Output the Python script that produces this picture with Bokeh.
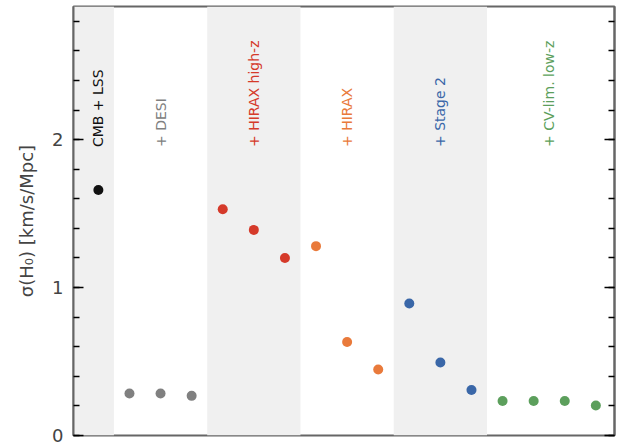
from bokeh.plotting import figure
from bokeh.models import LinearAxis, BoxAnnotation, Range1d, FixedTicker, ColumnDataSource
from bokeh.core.properties import value
from bokeh.embed import file_html
from bokeh.resources import INLINE
import math

# Data
groups = ["CMB + LSS", "+ DESI", "+ HIRAX high-z", "+ HIRAX", "+ Stage 2", "+ CV-lim. low-z"]
group_colors = ["#111111", "#808080", "#d53a2a", "#e97a3b", "#3a67a8", "#5c9f5c"]
group_values = [
    [1.66],
    [0.284, 0.284, 0.268],
    [1.53, 1.39, 1.20],
    [1.28, 0.632, 0.446],
    [0.892, 0.493, 0.307],
    [0.233, 0.233, 0.233, 0.203],
]
y_ticks = [0, 1, 2]
y_label = "σ(H₀) [km/s/Mpc]"
shaded_groups = [0, 2, 4]

FONT = "DejaVu Sans"

p = figure(width=625, height=445, output_backend="svg", toolbar_location=None,
           x_range=Range1d(-0.8, 16.6), y_range=Range1d(0, 2.9),
           min_border_left=73, min_border_right=11, min_border_top=6, min_border_bottom=10,
           x_axis_location=None)
p.grid.visible = False
p.background_fill_color = "white"
p.border_fill_color = "white"
p.outline_line_color = "#666666"
p.outline_line_width = 2

# positions
xs, ys, cs = [], [], []
label_x = []
start = 0
bounds = []
for vals, col in zip(group_values, group_colors):
    n = len(vals)
    idx = list(range(start, start + n))
    xs += idx
    ys += vals
    cs += [col] * n
    label_x.append((idx[0] + idx[-1]) / 2)
    bounds.append((idx[0] - 0.5, idx[-1] + 0.5))
    start += n

for gi in shaded_groups:
    l, r = bounds[gi]
    p.add_layout(BoxAnnotation(left=l if gi != 0 else None, right=r,
                               fill_color="#f0f0f0", fill_alpha=1.0, line_color=None, level="underlay"))

p.scatter(xs, ys, size=10, color=cs, line_color=None)

src = ColumnDataSource(dict(x=label_x, y=[1.95] * len(groups), t=groups, c=group_colors))
p.text(x="x", y="y", text="t", text_color="c", source=src, angle=math.pi / 2,
       text_align="left", text_baseline="middle", text_font=value(FONT), text_font_size="14px")

ax = p.yaxis[0]
ax.ticker = FixedTicker(ticks=y_ticks, minor_ticks=[i * 0.2 for i in range(15)])
ax.axis_label = y_label
ax.axis_label_text_font = FONT
ax.axis_label_text_font_size = "18px"
ax.axis_label_text_font_style = "normal"
ax.axis_label_standoff = 12
ax.major_label_text_font = FONT
ax.major_label_text_font_size = "18px"
ax.major_label_standoff = 10
ax.major_tick_in = 10
ax.major_tick_out = 0
ax.minor_tick_in = 6
ax.minor_tick_out = 0
ax.major_tick_line_color = "black"
ax.minor_tick_line_color = "black"
ax.major_tick_line_width = 1.5
ax.minor_tick_line_width = 1.5
ax.axis_line_color = "#666666"
ax.axis_line_width = 2

rax = LinearAxis(ticker=FixedTicker(ticks=y_ticks, minor_ticks=[i * 0.2 for i in range(15)]))
rax.major_label_text_font_size = "0px"
rax.major_label_text_color = None
rax.major_tick_in = 10
rax.major_tick_out = 0
rax.minor_tick_in = 6
rax.minor_tick_out = 0
rax.major_tick_line_color = "black"
rax.minor_tick_line_color = "black"
rax.major_tick_line_width = 1.5
rax.minor_tick_line_width = 1.5
rax.axis_line_color = "#666666"
rax.axis_line_width = 2
p.add_layout(rax, "right")

open("out.html", "w").write(file_html(p, INLINE))
